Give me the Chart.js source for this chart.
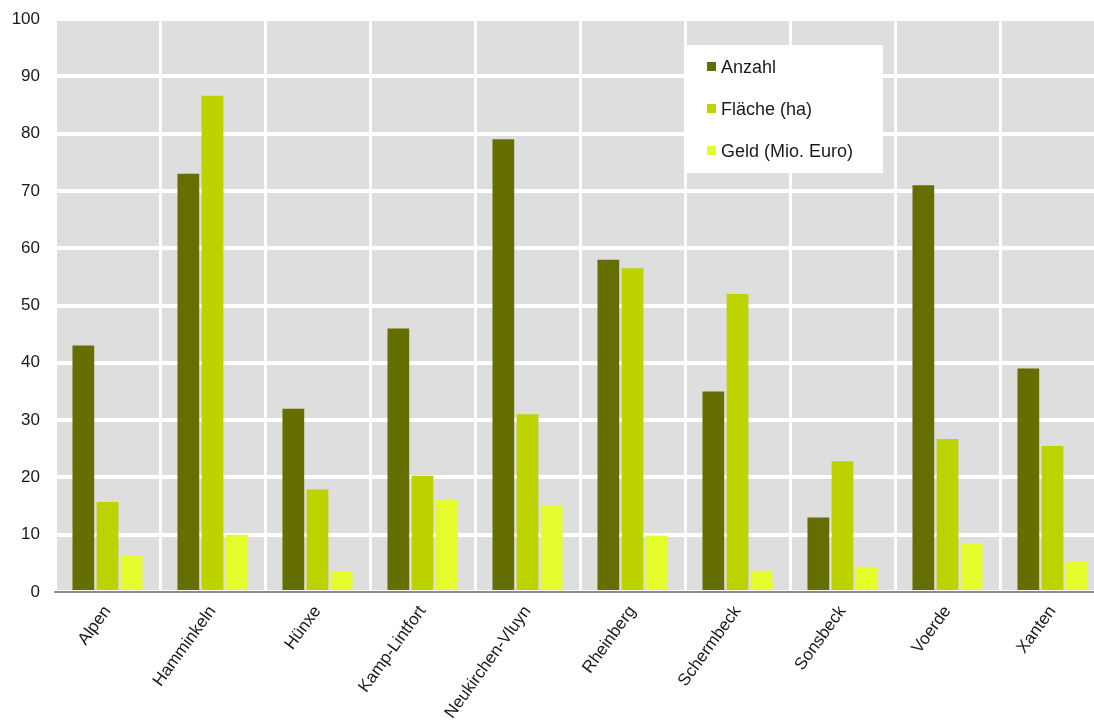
<!DOCTYPE html>
<html lang="de">
<head>
<meta charset="utf-8">
<title>Flurbereinigung nach Gemeinden</title>
<script src="https://cdn.jsdelivr.net/npm/chart.js@4/dist/chart.umd.min.js"></script>
<style>
  html, body { margin: 0; padding: 0; background: #fff; overflow: hidden; }
  #wrap { width: 1105px; height: 727px; }
</style>
</head>
<body>
<div id="wrap"><canvas id="myChart" width="1105" height="727"></canvas></div>
<script>
// Gemeinden (x-Achse)
const gemeinden = ['Alpen', 'Hamminkeln', 'Hünxe', 'Kamp-Lintfort', 'Neukirchen-Vluyn',
  'Rheinberg', 'Schermbeck', 'Sonsbeck', 'Voerde', 'Xanten'];

// Werte je Reihe
const anzahl = [43, 73, 32, 46, 79, 58, 35, 13, 71, 39];
const flaeche = [15.7, 86.6, 17.9, 20.3, 31, 56.5, 52, 22.8, 26.7, 25.5];
const geld = [6.3, 10, 3.5, 16.2, 15.2, 9.8, 3.7, 4.4, 8.4, 5.3];

// Ticks der y-Achse
const yTicks = [0, 10, 20, 30, 40, 50, 60, 70, 80, 90, 100];

const FONT = '"Liberation Sans", Arial, sans-serif';

// grauer Hintergrund der Zeichenfläche
const plotBackground = {
  id: 'plotBackground',
  beforeDraw(chart) {
    const { ctx, chartArea: a } = chart;
    ctx.save();
    ctx.fillStyle = '#dedede';
    ctx.fillRect(a.left, a.top, a.right - a.left, a.bottom - a.top);
    ctx.restore();
  }
};

// Legende als weiße Box innerhalb der Zeichenfläche
const boxLegend = {
  id: 'boxLegend',
  afterDatasetsDraw(chart) {
    const ctx = chart.ctx;
    const x = 687, y = 45, w = 196, h = 128;
    ctx.save();
    ctx.fillStyle = '#ffffff';
    ctx.fillRect(x, y, w, h);
    ctx.font = '18px ' + FONT;
    ctx.textBaseline = 'middle';
    chart.data.datasets.forEach((ds, i) => {
      const cy = y + 22 + i * 42;
      ctx.fillStyle = ds.backgroundColor;
      ctx.fillRect(x + 20, cy - 5, 9, 9);
      ctx.fillStyle = '#1a1a1a';
      ctx.fillText(ds.label, x + 34, cy + 1);
    });
    ctx.restore();
  }
};

const ctx = document.getElementById('myChart').getContext('2d');
new Chart(ctx, {
  type: 'bar',
  data: {
    labels: gemeinden,
    datasets: [
      { label: 'Anzahl', data: anzahl, backgroundColor: '#656e00' },
      { label: 'Fläche (ha)', data: flaeche, backgroundColor: '#bcd300' },
      { label: 'Geld (Mio. Euro)', data: geld, backgroundColor: '#e4fb2c' }
    ]
  },
  options: {
    responsive: false,
    animation: false,
    layout: { padding: { top: 19, right: 0, left: 0, bottom: 0 } },
    datasets: {
      bar: { categoryPercentage: 0.69, barPercentage: 0.9 }
    },
    scales: {
      x: {
        offset: true,
        grid: { color: '#ffffff', lineWidth: 3, offset: true, drawTicks: false },
        border: { display: true, color: '#8c8c8c', width: 2 },
        ticks: {
          color: '#1a1a1a',
          font: { family: FONT, size: 17 },
          minRotation: 54,
          maxRotation: 54,
          padding: 10,
          autoSkip: false
        },
        afterFit(scale) { scale.height = 135; }
      },
      y: {
        min: 0,
        max: 100,
        afterBuildTicks(scale) { scale.ticks = yTicks.map(v => ({ value: v })); },
        grid: { color: '#ffffff', lineWidth: 4, drawTicks: false },
        border: { display: false },
        ticks: {
          color: '#1a1a1a',
          font: { family: FONT, size: 17 },
          padding: 15
        },
        // Zeichenfläche oben nicht durch die Tick-Beschriftung verschieben
        afterFit(scale) {
          scale.width = 55;
          scale.paddingTop = 0;
          scale.paddingBottom = 0;
        }
      }
    },
    plugins: {
      legend: { display: false },
      tooltip: { enabled: false }
    }
  },
  plugins: [plotBackground, boxLegend]
});
</script>
</body>
</html>
